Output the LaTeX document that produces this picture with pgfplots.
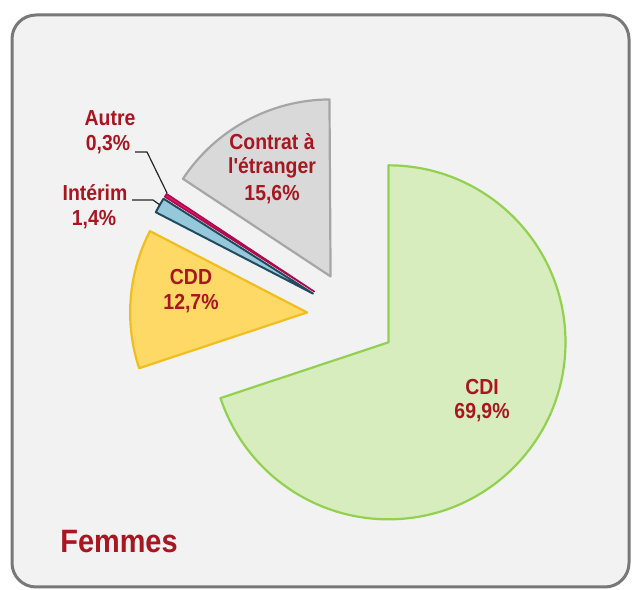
\documentclass[border=0pt]{standalone}
\usepackage{pgfplots}
\pgfplotsset{compat=1.18}
\usepackage{fontspec}
\setmainfont{Liberation Sans}
\newfontfamily\lf{Liberation Sans}
\definecolor{bg}{RGB}{242,242,242}
\definecolor{frame}{RGB}{120,120,120}
\definecolor{lab}{RGB}{168,22,32}
\definecolor{cdiF}{RGB}{215,237,190}
\definecolor{cdiD}{RGB}{146,208,80}
\definecolor{cddF}{RGB}{255,217,102}
\definecolor{cddD}{RGB}{240,190,30}
\definecolor{intF}{RGB}{150,200,220}
\definecolor{intD}{RGB}{35,75,95}
\definecolor{autF}{RGB}{225,20,110}
\definecolor{autD}{RGB}{175,10,75}
\definecolor{etrF}{RGB}{217,217,217}
\definecolor{etrD}{RGB}{166,166,166}
\begin{document}
\begin{tikzpicture}
% shares in percent
\def\pCDI{69.9}\def\pCDD{12.7}\def\pINT{1.4}\def\pAUT{0.3}\def\pETR{15.6}
\pgfmathsetmacro\aA{90}
\pgfmathsetmacro\aB{\aA-\pCDI*3.6}
\pgfmathsetmacro\aC{\aB-\pCDD*3.6}
\pgfmathsetmacro\aD{\aC-\pINT*3.6}
\pgfmathsetmacro\aE{\aD-\pAUT*3.6}
\pgfmathsetmacro\aF{\aE-\pETR*3.6}
\pgfmathsetmacro\bA{(\aA+\aB)/2}
\pgfmathsetmacro\bB{(\aB+\aC)/2}
\pgfmathsetmacro\bC{(\aC+\aD)/2}
\pgfmathsetmacro\bD{(\aD+\aE)/2}
\pgfmathsetmacro\bE{(\aE+\aF)/2}
\def\R{177bp}\def\X{45bp}
\begin{axis}[x=1bp,y=1bp,xmin=0,xmax=633,ymin=0,ymax=590,hide axis,clip=false]
\fill[white] (axis cs:0,0) rectangle (axis cs:633,590);
\draw[draw=frame,fill=bg,rounded corners=24bp,line width=3bp] (axis cs:12,3) rectangle (axis cs:629,575);
\filldraw[fill=cdiF,draw=cdiD,line width=2.2bp,line join=round] (axis cs:352,274) ++(\bA:\X) -- ++(\aA:\R) arc[start angle=\aA,end angle=\aB,radius=\R] -- cycle;
\filldraw[fill=cddF,draw=cddD,line width=2.2bp,line join=round] (axis cs:352,274) ++(\bB:\X) -- ++(\aB:\R) arc[start angle=\aB,end angle=\aC,radius=\R] -- cycle;
\filldraw[fill=intF,draw=intD,line width=2bp,line join=round] (axis cs:352,274) ++(\bC:\X) -- ++(\aC:\R) arc[start angle=\aC,end angle=\aD,radius=\R] -- cycle;
\filldraw[fill=autF,draw=autD,line width=1.6bp,line join=round] (axis cs:352,274) ++(\bD:\X) -- ++(\aD:\R) arc[start angle=\aD,end angle=\aE,radius=\R] -- cycle;
\filldraw[fill=etrF,draw=etrD,line width=2.2bp,line join=round] (axis cs:352,274) ++(\bE:\X) -- ++(\aE:\R) arc[start angle=\aE,end angle=\aF,radius=\R] -- cycle;
% leader lines
\draw[black!85,line width=1.2bp] (axis cs:135,438) -- (axis cs:147,438) -- (axis cs:167,397);
\draw[black!85,line width=1.2bp] (axis cs:132,390) -- (axis cs:153,390) -- (axis cs:160,385);
% labels
\tikzset{lb/.style={text=lab,font=\lf\bfseries\fontsize{19.5}{23}\selectfont,yscale=1.12,inner sep=0pt,anchor=center}}
\node[lb] at (axis cs:110,472) {Autre};
\node[lb] at (axis cs:108,445) {0,3\%};
\node[lb] at (axis cs:95,397) {Intérim};
\node[lb] at (axis cs:94,370) {1,4\%};
\node[lb] at (axis cs:272,448) {Contrat à};
\node[lb] at (axis cs:272,422) {l'étranger};
\node[lb] at (axis cs:272,395) {15,6\%};
\node[lb] at (axis cs:191,313) {CDD};
\node[lb] at (axis cs:191,286) {12,7\%};
\node[lb] at (axis cs:482,203) {CDI};
\node[lb] at (axis cs:482,177) {69,9\%};
\node[text=lab,font=\lf\bfseries\fontsize{29}{34}\selectfont,yscale=1.12,inner sep=0pt,anchor=center] at (axis cs:119,48) {Femmes};
\end{axis}
\end{tikzpicture}
\end{document}
